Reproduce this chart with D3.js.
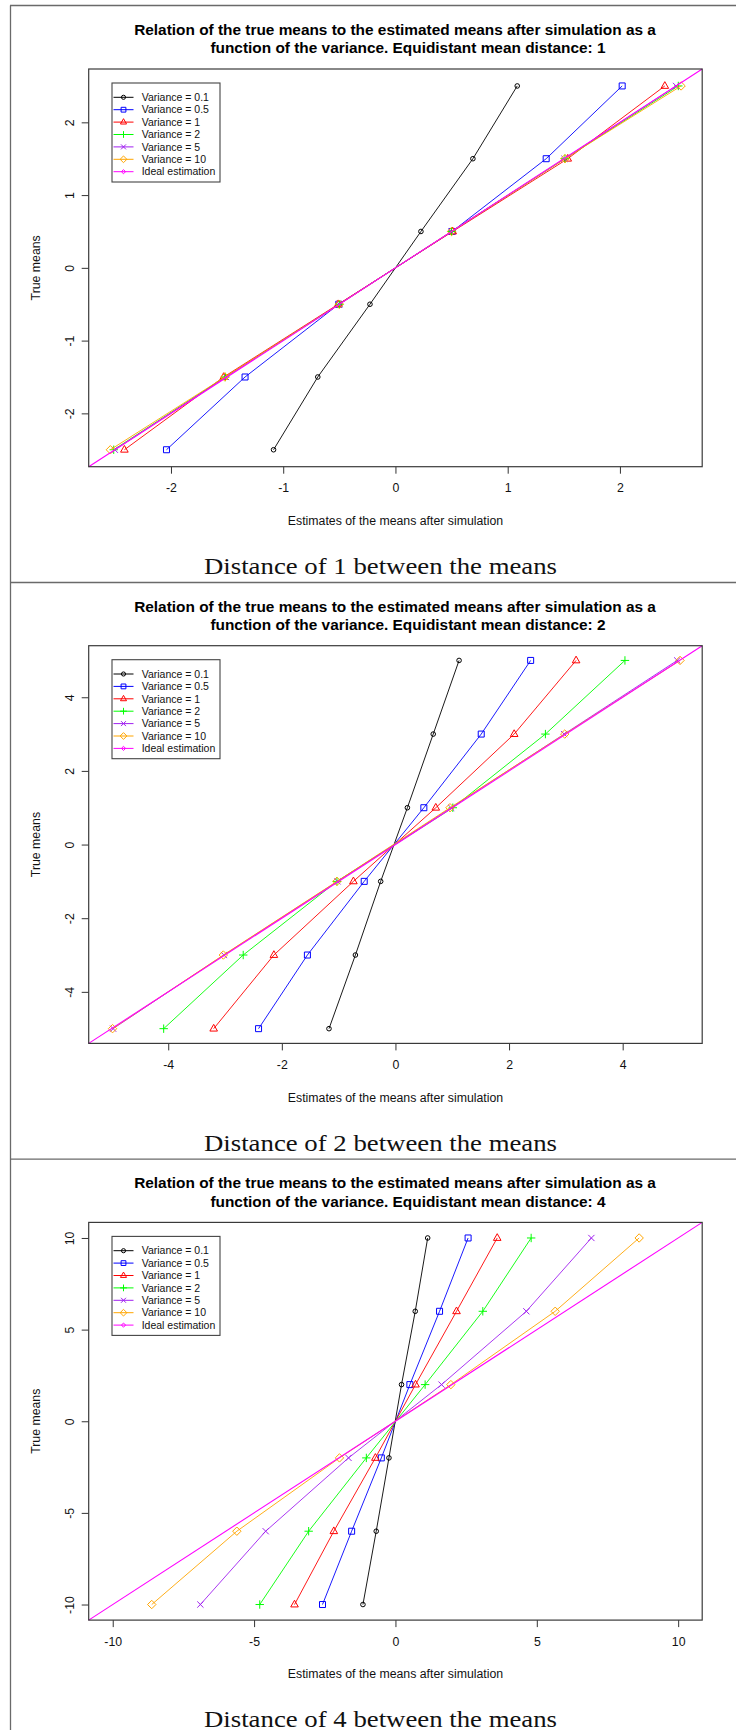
<!DOCTYPE html>
<html>
<head>
<meta charset="utf-8">
<script src="https://cdn.jsdelivr.net/npm/d3@7"></script>
<style>
  html, body { margin: 0; padding: 0; background: #fff; }
  svg { display: block; }
</style>
</head>
<body>
<svg id="chart" width="740" height="1730" font-family="'Liberation Sans', Arial, sans-serif"></svg>
<script>
// ---------------- DATA ----------------
const varianceLabels = ["Variance = 0.1", "Variance = 0.5", "Variance = 1", "Variance = 2", "Variance = 5", "Variance = 10"];
const idealLabel = "Ideal estimation";
const distances = [1, 2, 4];

const trueMeans1 = [-2.5, -1.5, -0.5, 0.5, 1.5, 2.5];
const trueMeans2 = [-5, -3, -1, 1, 3, 5];
const trueMeans3 = [-10, -6, -2, 2, 6, 10];

// estimated means, one row per variance (0.1, 0.5, 1, 2, 5, 10)
const estimates1 = [
  [-1.086, -0.692, -0.227, 0.227, 0.690, 1.085],
  [-2.04, -1.34, -0.505, 0.505, 1.343, 2.02],
  [-2.415, -1.53, -0.51, 0.51, 1.535, 2.40],
  [-2.51, -1.515, -0.50, 0.50, 1.51, 2.52],
  [-2.50, -1.51, -0.50, 0.50, 1.505, 2.50],
  [-2.54, -1.52, -0.50, 0.50, 1.51, 2.545]
];
const estimates2 = [
  [-1.17, -0.705, -0.26, 0.21, 0.665, 1.12],
  [-2.41, -1.55, -0.55, 0.50, 1.51, 2.38],
  [-3.20, -2.14, -0.74, 0.71, 2.09, 3.18],
  [-4.08, -2.68, -1.03, 1.01, 2.64, 4.04],
  [-4.97, -3.02, -1.02, 0.98, 2.97, 4.96],
  [-4.98, -3.03, -1.03, 0.96, 2.98, 5.01]
];
const estimates3 = [
  [-1.15, -0.68, -0.23, 0.215, 0.70, 1.14],
  [-2.58, -1.55, -0.50, 0.51, 1.56, 2.57],
  [-3.57, -2.18, -0.71, 0.71, 2.16, 3.60],
  [-4.80, -3.07, -1.03, 1.05, 3.09, 4.80],
  [-6.90, -4.59, -1.66, 1.63, 4.63, 6.93],
  [-8.62, -5.61, -1.98, 1.96, 5.65, 8.62]
];

const axisLimits = [2.733, 5.4, 10.85];
const ticks1 = [-2, -1, 0, 1, 2];
const ticks2 = [-4, -2, 0, 2, 4];
const ticks3 = [-10, -5, 0, 5, 10];

// ---------------- STYLE ----------------
const seriesColors = ["#000000", "#0000FF", "#FF0000", "#00FF00", "#A020F0", "#FFA500"];
const idealColor = "#FF00FF";
const markerKinds = ["circle", "square", "triangle", "plus", "cross", "diamond"];

const panels = [
  { y: trueMeans1, est: estimates1, lim: axisLimits[0], ticks: ticks1, dist: distances[0] },
  { y: trueMeans2, est: estimates2, lim: axisLimits[1], ticks: ticks2, dist: distances[1] },
  { y: trueMeans3, est: estimates3, lim: axisLimits[2], ticks: ticks3, dist: distances[2] }
];

const svg = d3.select("#chart");
const SANS = "'Liberation Sans', Arial, sans-serif";
const SERIF = "'Liberation Serif', 'Times New Roman', serif";
const PANEL_H = 576.7;
const PL = 88.7, PR = 702.2, PT = 69, PB = 466.7;

function markerPath(kind, s) {
  const k = s;
  switch (kind) {
    case "square": return `M${-3*k},${-3*k}H${3*k}V${3*k}H${-3*k}Z`;
    case "triangle": return `M0,${-4.3*k}L${3.8*k},${2.4*k}L${-3.8*k},${2.4*k}Z`;
    case "plus": return `M${-4.2*k},0H${4.2*k}M0,${-4.2*k}V${4.2*k}`;
    case "cross": return `M${-3.1*k},${-3.1*k}L${3.1*k},${3.1*k}M${-3.1*k},${3.1*k}L${3.1*k},${-3.1*k}`;
    case "diamond": return `M0,${-4.2*k}L${4.2*k},0L0,${4.2*k}L${-4.2*k},0Z`;
    case "smalldiamond": return `M0,${-2.6*k}L${2.6*k},0L0,${2.6*k}L${-2.6*k},0Z`;
    default: { const r = 2.3*k; return `M${r},0A${r},${r} 0 1,1 ${-r},0A${r},${r} 0 1,1 ${r},0Z`; }
  }
}

// frame lines
const frame = svg.append("g").attr("stroke", "#6a6a6a").attr("stroke-width", 1.3).attr("fill", "none");
frame.append("line").attr("x1", 10.5).attr("x2", 10.5).attr("y1", 5.5).attr("y2", 1730);
[5.5, 582.5, 1159.2].forEach(y => {
  frame.append("line").attr("x1", 10).attr("x2", 736).attr("y1", y).attr("y2", y);
});

panels.forEach((p, pi) => {
  const g = svg.append("g").attr("transform", `translate(0,${pi * PANEL_H})`);
  const x = d3.scaleLinear().domain([-p.lim, p.lim]).range([PL, PR]);
  const y = d3.scaleLinear().domain([-p.lim, p.lim]).range([PB, PT]);

  // title
  g.append("text").attr("x", 395).attr("y", 35).attr("text-anchor", "middle")
    .style("font-family", SANS).style("font-size", "15.4px").style("font-weight", "bold").attr("fill", "#000")
    .text("Relation of the true means to the estimated means after simulation as a");
  g.append("text").attr("x", 408).attr("y", 53.3).attr("text-anchor", "middle")
    .style("font-family", SANS).style("font-size", "15.4px").style("font-weight", "bold").attr("fill", "#000")
    .text(`function of the variance. Equidistant mean distance: ${p.dist}`);

  // axes
  const xAxis = d3.axisBottom(x).tickValues(p.ticks).tickSize(7).tickPadding(10).tickFormat(d3.format("d"));
  const gx = g.append("g").attr("transform", `translate(0,${PB})`).call(xAxis);
  gx.select(".domain").remove();
  gx.selectAll("line").attr("stroke", "#333");
  gx.selectAll("text").style("font-size", "12.3px").attr("fill", "#111").style("font-family", SANS)
    .text(d => (d < 0 ? "-" + Math.abs(d) : String(d)));

  const yAxis = d3.axisLeft(y).tickValues(p.ticks).tickSize(7).tickFormat(d3.format("d"));
  const gy = g.append("g").attr("transform", `translate(${PL},0)`).call(yAxis);
  gy.select(".domain").remove();
  gy.selectAll("line").attr("stroke", "#333");
  gy.selectAll("text")
    .style("font-size", "12.3px").attr("fill", "#111").style("font-family", SANS)
    .attr("x", null)
    .attr("text-anchor", "middle")
    .attr("transform", "translate(-19.5,0) rotate(-90)")
    .attr("dy", "0.35em")
    .text(d => (d < 0 ? "-" + Math.abs(d) : String(d)));

  // axis titles
  g.append("text").attr("x", 395.5).attr("y", 525).attr("text-anchor", "middle")
    .style("font-family", SANS).style("font-size", "12.3px").attr("fill", "#111")
    .text("Estimates of the means after simulation");
  g.append("text").attr("transform", `translate(39.5,${(PT + PB) / 2}) rotate(-90)`)
    .attr("text-anchor", "middle").style("font-family", SANS).style("font-size", "12.3px")
    .attr("fill", "#111").text("True means");

  // series
  const line = d3.line().x(d => x(d[0])).y(d => y(d[1]));
  p.est.forEach((row, si) => {
    const pts = row.map((v, i) => [v, p.y[i]]);
    g.append("path").attr("d", line(pts)).attr("fill", "none")
      .attr("stroke", seriesColors[si]).attr("stroke-width", 0.9);
    g.selectAll(null).data(pts).enter().append("path")
      .attr("transform", d => `translate(${x(d[0])},${y(d[1])})`)
      .attr("d", markerPath(markerKinds[si], 1))
      .attr("fill", "none").attr("stroke", seriesColors[si]).attr("stroke-width", 1);
  });

  // ideal estimation line (y = x)
  g.append("path").attr("d", line([[-p.lim, -p.lim], [p.lim, p.lim]]))
    .attr("fill", "none").attr("stroke", idealColor).attr("stroke-width", 1.1);

  // plot box
  g.append("rect").attr("x", PL).attr("y", PT).attr("width", PR - PL).attr("height", PB - PT)
    .attr("fill", "none").attr("stroke", "#3a3a3a").attr("stroke-width", 1.2);

  // legend
  const lg = g.append("g");
  lg.append("rect").attr("x", 112).attr("y", 83).attr("width", 108).attr("height", 99)
    .attr("fill", "#fff").attr("stroke", "#444").attr("stroke-width", 1.1);
  const labels = varianceLabels.concat([idealLabel]);
  const cols = seriesColors.concat([idealColor]);
  const kinds = markerKinds.concat(["smalldiamond"]);
  labels.forEach((lab, i) => {
    const cy = 97.3 + i * 12.4;
    lg.append("line").attr("x1", 113.5).attr("x2", 133.5).attr("y1", cy).attr("y2", cy)
      .attr("stroke", cols[i]).attr("stroke-width", 1);
    lg.append("path").attr("transform", `translate(123.5,${cy})`)
      .attr("d", markerPath(kinds[i], i === 0 ? 0.9 : 0.8))
      .attr("fill", "none").attr("stroke", cols[i]).attr("stroke-width", 1);
    lg.append("text").attr("x", 141.7).attr("y", cy).attr("dy", "0.36em")
      .style("font-family", SANS).style("font-size", "10.5px").attr("fill", "#111").text(lab);
  });

  // caption
  g.append("text").attr("x", 380.5).attr("y", 574).attr("text-anchor", "middle")
    .style("font-family", SERIF).style("font-size", "23.5px").attr("fill", "#111")
    .attr("textLength", 353).attr("lengthAdjust", "spacingAndGlyphs")
    .text(`Distance of ${p.dist} between the means`);
});
</script>
</body>
</html>
